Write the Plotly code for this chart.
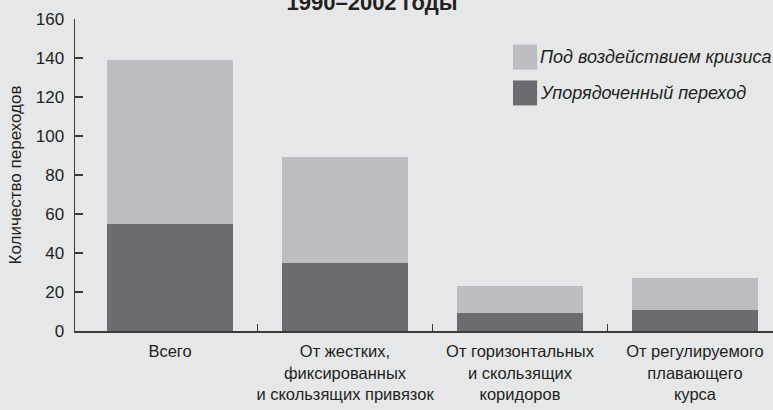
import plotly.graph_objects as go

categories = ["Всего", "От жестких,<br>фиксированных<br>и скользящих привязок",
              "От горизонтальных<br>и скользящих<br>коридоров",
              "От регулируемого<br>плавающего<br>курса"]
orderly = [55, 35, 9, 11]
crisis = [84, 54, 14, 16]
series_names = ["Упорядоченный переход", "Под воздействием кризиса"]
y_ticks = [0, 20, 40, 60, 80, 100, 120, 140, 160]

BG = "#e6e7e9"
LIGHT = "#bcbdc0"
DARK = "#6b6c6f"
TXT = "#231f20"
AX = "#3a3a3c"
FONT = "Liberation Sans Narrow, Arial Narrow, sans-serif"

x = list(range(len(categories)))

fig = go.Figure()
fig.add_trace(go.Bar(x=x, y=orderly, name=series_names[0], marker=dict(color=DARK, line=dict(width=0)),
                     width=0.72, showlegend=False))
fig.add_trace(go.Bar(x=x, y=crisis, name=series_names[1], marker=dict(color=LIGHT, line=dict(width=0)),
                     width=0.72, showlegend=False))

# legend drawn as shapes + annotations (large swatches)
legend_items = [(series_names[1], LIGHT, 0.878), (series_names[0], DARK, 0.763)]
for name, col, yc in legend_items:
    fig.add_shape(type="rect", xref="paper", yref="paper",
                  x0=0.6275, x1=0.662, y0=yc - 0.040, y1=yc + 0.040,
                  fillcolor=col, line=dict(width=0))
    fig.add_annotation(text=name, xref="paper", yref="paper", x=0.664, y=yc,
                       xanchor="left", yanchor="middle", showarrow=False,
                       font=dict(family=FONT, size=18, color=TXT, style="italic"))

fig.update_layout(
    width=773, height=410,
    barmode="stack",
    paper_bgcolor=BG, plot_bgcolor=BG,
    margin=dict(l=75, r=0, t=19, b=79),
    font=dict(family=FONT, size=17, color=TXT),
    title=dict(text="<b>1990–2002 годы</b>", xref="paper", x=0.4255, xanchor="center",
               yref="container", y=0.995, yanchor="middle", pad=dict(t=0, b=0),
               font=dict(family=FONT, size=22, color=TXT)),
    xaxis=dict(range=[-0.543, 3.446], tickmode="array", tickvals=x, ticktext=categories,
               ticks="", showline=True, linecolor=AX, linewidth=1.5, showgrid=False,
               zeroline=False, fixedrange=True, automargin=False, ticklabelstandoff=5,
               tickfont=dict(size=16.5),
               minor=dict(tickmode="array", tickvals=[0.5, 1.5, 2.5], ticks="inside",
                          ticklen=7, tickwidth=1.2, tickcolor=AX, showgrid=False)),
    yaxis=dict(range=[0, 160], tickmode="array", tickvals=y_ticks,
               ticks="inside", ticklen=8, tickwidth=1.2, tickcolor=AX,
               showline=True, linecolor=AX, linewidth=1.5, showgrid=False, zeroline=False,
               ticklabelstandoff=6, automargin=False, fixedrange=True,
               title=dict(text="Количество переходов", standoff=10,
                          font=dict(family=FONT, size=17, color=TXT))),
)

fig.write_html("out.html", config=dict(displayModeBar=False, staticPlot=True),
               post_script="document.body.style.margin='0';document.body.style.overflow='hidden';")
